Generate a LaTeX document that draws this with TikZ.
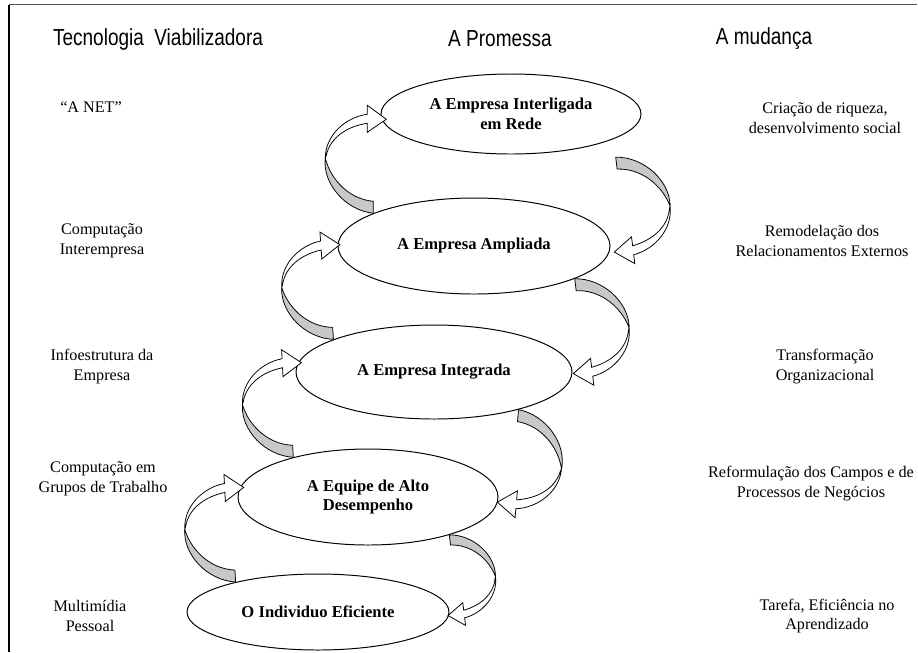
\documentclass[tikz,border=0pt]{standalone}
\usepackage{fontspec}
\usepackage{tikz}
\usetikzlibrary{shapes.geometric, calc}
\setmainfont{Liberation Serif}
\newfontfamily\headfont[FakeStretch=0.82]{Liberation Sans}
\definecolor{twistgray}{HTML}{C8C8C8}
\definecolor{framegray}{HTML}{555555}

\begin{document}
\begin{tikzpicture}[x=0.25cm, y=-0.25cm,
    colhead/.style={font=\headfont\fontsize{16.5}{19}\selectfont},
    sidelabel/.style={align=center, font=\fontsize{11.5}{14.2}\selectfont},
    promise/.style={ellipse, draw, line width=0.7pt, align=center, inner sep=0pt,
      font=\bfseries\fontsize{11.8}{14}\selectfont},
    upribbon/.pic={
      \filldraw[fill=twistgray, line width=0.55pt, line join=round]
        (0,0) -- (0,-1.2) .. controls (-2.3,-1.4) and (-4.2,-3.2) .. (-4.8,-5.5)
        .. controls (-5.1,-3.0) and (-2.8,-0.3) .. (0,0) -- cycle;
      \filldraw[fill=white, line width=0.55pt]
        (-4.8,-5.5) .. controls (-4.8,-7.8) and (-2.8,-9.6) .. (-0.6,-9.9)
        -- (-0.6,-10.8) -- (1.3,-9.4) -- (-0.6,-8.1) -- (-0.6,-9.0)
        .. controls (-2.6,-8.7) and (-4.3,-7.6) .. (-4.7,-5.8) -- cycle;
    },
  ]
  \useasboundingbox (0,0) rectangle (91.8,65.2);
  % frame
  \draw[framegray, line width=1.3pt] (0.9,0.45) -- (91.7,0.45);
  \draw[line width=1pt] (0.9,0.45) -- (0.9,65.2);

  % column headers
  \node[colhead] (h1) at (15.8,3.9) {Tecnologia\hspace{0.45em}Viabilizadora};
  \node[colhead] (h2) at (50.0,3.9) {A Promessa};
  \node[colhead] (h3) at (76.4,3.9) {A mudança};

  % the five stages
  \node[promise, minimum width=6.5cm, minimum height=2cm] (e1) at (51.1,11.4) {A Empresa Interligada\\em Rede};
  \node[promise, minimum width=6.8cm, minimum height=2.4cm] (e2) at (47.4,24.6) {A Empresa Ampliada};
  \node[promise, minimum width=6.9cm, minimum height=2.35cm] (e3) at (43.4,37.2) {A Empresa Integrada};
  \node[promise, minimum width=6.5cm, minimum height=2.4cm] (e4) at (36.8,49.7) {A Equipe de Alto\\Desempenho};
  \node[promise, minimum width=6.55cm, minimum height=1.9cm] (e5) at (31.8,61.2) {O Individuo Eficiente};

  % enabling technology
  \node[sidelabel] (l1) at (9.1,10.7) {“A NET”};
  \node[sidelabel] (l2) at (10.2,24.1) {Computação\\Interempresa};
  \node[sidelabel] (l3) at (10.2,36.7) {Infoestrutura da\\Empresa};
  \node[sidelabel] (l4) at (10.3,47.9) {Computação em\\Grupos de Trabalho};
  \node[sidelabel] (l5) at (9.0,61.6) {Multimídia\\Pessoal};

  % the change
  \node[sidelabel] (r1) at (82.5,11.8) {Criação de riqueza,\\desenvolvimento social};
  \node[sidelabel] (r2) at (82.2,24.1) {Remodelação dos\\Relacionamentos Externos};
  \node[sidelabel] (r3) at (82.5,36.7) {Transformação\\Organizacional};
  \node[sidelabel] (r4) at (81.1,48.4) {Reformulação dos Campos e de\\Processos de Negócios};
  \node[sidelabel] (r5) at (82.7,61.6) {Tarefa, Eficiência no\\Aprendizado};

  % rising ribbons (left side)
  \pic at (e2.162) {upribbon};
  \pic[rotate=4] at (e3.162) {upribbon};
  \pic[rotate=3] at (e4.152) {upribbon};
  \pic[rotate=3] at (e5.160) {upribbon};
  % falling ribbons (right side)
  \pic[rotate=187] at ($(e1.-13)+(0,1.9)$) {upribbon};
  \pic[rotate=187] at (e2.-18) {upribbon};
  \pic[rotate=175] at (e3.-24) {upribbon};
  \pic[rotate=187, scale=0.85] at (e4.-25) {upribbon};
\end{tikzpicture}
\end{document}
